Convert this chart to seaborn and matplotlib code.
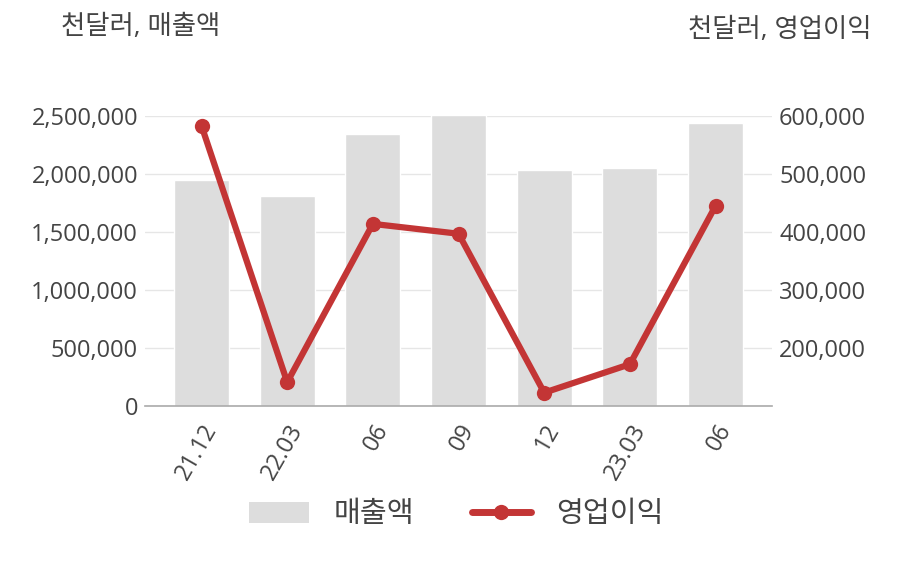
import numpy as np
import pandas as pd
import matplotlib
matplotlib.use("Agg")
import matplotlib.pyplot as plt
from matplotlib.lines import Line2D
from matplotlib.patches import Patch
from matplotlib.ticker import FuncFormatter
import seaborn as sns

# data (천달러)
periods = ["21.12", "22.03", "22.06", "22.09", "22.12", "23.03", "23.06"]
tick_labels = ["21.12", "22.03", "06", "09", "12", "23.03", "06"]
sales = [1948000, 1810000, 2345000, 2505000, 2034000, 2052000, 2442000]
op_income = [583000, 141000, 414000, 397000, 123000, 172000, 445000]

sns.set_theme(style="white")
plt.rcParams["font.family"] = ["Open Sans", "Noto Sans CJK KR", "DejaVu Sans"]

TEXT = "#444444"
BAR = "#dddddd"
RED = "#c33535"

df = pd.DataFrame({"period": periods, "sales": sales, "op": op_income})

fig = plt.figure(figsize=(9.08, 5.8), dpi=100)
ax = fig.add_axes([0.1597, 0.300, 0.6906, 0.500])

sns.barplot(data=df, x="period", y="sales", color=BAR, saturation=1,
            width=0.64, ax=ax, zorder=2)
ax.set_xlim(-0.66, len(periods) - 1 + 0.66)
ax.set_ylim(0, 2500000)
ax.set_yticks(np.arange(0, 2500001, 500000))
ax.yaxis.set_major_formatter(FuncFormatter(lambda v, p: f"{int(v):,}"))
ax.grid(axis="y", color="#e6e6e6", linewidth=1, zorder=0)
ax.set_axisbelow(True)
ax.set_xlabel("")
ax.set_ylabel("")
ax.set_xticks(range(len(periods)))
ax.set_xticklabels(tick_labels, rotation=60, ha="right", rotation_mode="anchor")
ax.tick_params(axis="both", length=0, labelsize=17, labelcolor=TEXT)
ax.tick_params(axis="x", pad=10)
ax.tick_params(axis="y", pad=5)
for s in ["top", "left", "right"]:
    ax.spines[s].set_visible(False)
ax.spines["bottom"].set_color("#aaaaaa")
ax.spines["bottom"].set_linewidth(1.2)

ax2 = ax.twinx()
sns.lineplot(x=np.arange(len(periods)), y=df["op"], ax=ax2, color=RED,
             linewidth=4.5, marker="o", markersize=11, markeredgewidth=0,
             zorder=3)
ax2.set_ylim(100000, 600000)
ax2.set_yticks(np.arange(200000, 600001, 100000))
ax2.yaxis.set_major_formatter(FuncFormatter(lambda v, p: f"{int(v):,}"))
ax2.tick_params(axis="y", length=0, labelsize=17, labelcolor=TEXT, pad=5)
ax2.set_ylabel("")
for s in ["top", "left", "right", "bottom"]:
    ax2.spines[s].set_visible(False)

fig.text(61 / 908, 1 - 27 / 580, "천달러, 매출액", fontsize=19, color=TEXT,
         ha="left", va="center")
fig.text(871 / 908, 1 - 30 / 580, "천달러, 영업이익", fontsize=19, color=TEXT,
         ha="right", va="center")

handles = [Patch(facecolor=BAR, edgecolor="none"),
           Line2D([0], [0], color=RED, linewidth=5, marker="o",
                  markersize=11, markeredgewidth=0)]
fig.legend(handles, ["매출액", "영업이익"], loc="center",
           bbox_to_anchor=(456.5 / 908, 1 - 515 / 580), ncol=2, frameon=False,
           fontsize=21, labelcolor=TEXT, handlelength=2.05, handleheight=0.7,
           columnspacing=1.95, handletextpad=0.86, borderpad=0)

fig.savefig("out.png", dpi=100)
